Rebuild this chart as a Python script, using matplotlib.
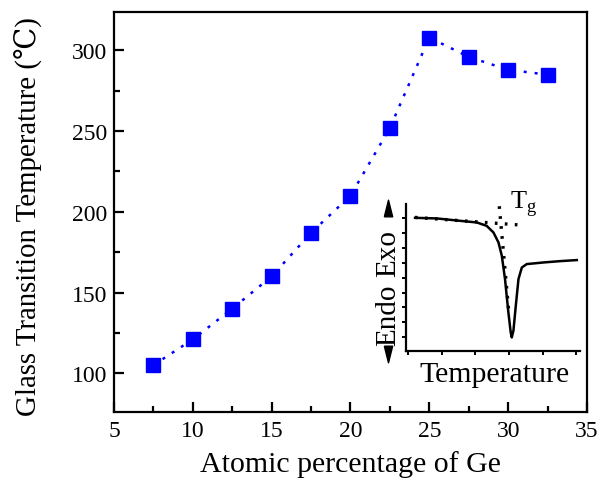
import matplotlib
matplotlib.use('Agg')
import matplotlib.pyplot as plt
from matplotlib.ticker import MultipleLocator

plt.rcParams['font.family'] = ['Liberation Serif', 'DejaVu Serif', 'DejaVu Sans']
plt.rcParams['mathtext.fontset'] = 'custom'
plt.rcParams['mathtext.rm'] = 'Liberation Serif'

# main data: Tg vs Ge content
ge = [7.5, 10, 12.5, 15, 17.5, 20, 22.5, 25, 27.5, 30, 32.5]
tg = [105, 121, 140, 160, 187, 210, 252, 308, 296, 288, 285]

# inset DSC curve (arbitrary units)
dsc_t = [4.2, 17.1, 31.0, 40.9, 46.8, 50.8, 53.8, 55.8, 57.7, 59.7, 61.1, 61.7,
         62.7, 64.1, 65.7, 67.7, 70.6, 80.6, 90.5, 100.4]
dsc_h = [80.2, 79.8, 78.2, 77.1, 74.8, 70.4, 63.7, 54.7, 39.0, 16.6, 3.1, -0.2,
         4.3, 21.0, 39.0, 46.8, 49.1, 50.2, 51.1, 51.8]
base_t = [4.2, 67.7]
base_h = [80.5, 75.3]
edge_t = [54.3, 59.8]
edge_h = [88.0, 18.8]

fig = plt.figure(figsize=(6.05, 4.85), dpi=100)
ax = fig.add_axes([0.1884, 0.1485, 0.7818, 0.8253])

ax.plot(ge, tg, color='blue', lw=1.8, ls=(0, (1.2, 3.2)), marker='s', ms=10.5,
        mec='blue', mfc='blue')
ax.set_xlim(5, 35)
ax.set_ylim(76, 324)
ax.xaxis.set_major_locator(MultipleLocator(5))
ax.xaxis.set_minor_locator(MultipleLocator(2.5))
ax.yaxis.set_major_locator(MultipleLocator(50))
ax.yaxis.set_minor_locator(MultipleLocator(25))
ax.tick_params(which='both', direction='in', top=False, right=False, width=1.6,
               labelsize=17)
ax.tick_params(which='major', length=7)
ax.tick_params(which='minor', length=4)
ax.tick_params(axis='x', pad=6)
ax.tick_params(axis='y', pad=5)
for lab in ax.get_xticklabels() + ax.get_yticklabels():
    lab.set_fontfamily('Liberation Serif')
for s in ax.spines.values():
    s.set_linewidth(1.6)
ax.set_xlabel('Atomic percentage of Ge', fontsize=21.5, labelpad=6)
ax.set_ylabel('Glass Transition Temperature (℃)', fontsize=20.8)
ax.yaxis.set_label_coords(-0.15, 0.49)

# inset
ins = fig.add_axes([0.671, 0.274, 0.288, 0.303])
ins.plot(dsc_t, dsc_h, color='black', lw=1.8)
ins.plot(base_t, base_h, color='black', lw=2.4, ls=(0, (0.8, 2.2)))
ins.plot(edge_t, edge_h, color='black', lw=2.4, ls=(0, (0.8, 2.2)))
ins.set_xlim(-1.2, 102.4)
ins.set_ylim(-9.4, 89.4)
ins.xaxis.set_major_locator(MultipleLocator(20))
ins.yaxis.set_major_locator(MultipleLocator(10))
ins.tick_params(direction='out', length=3, width=1.4, labelleft=False, labelbottom=False)
ins.spines['top'].set_visible(False)
ins.spines['right'].set_visible(False)
ins.spines['left'].set_linewidth(1.6)
ins.spines['bottom'].set_linewidth(1.6)
ins.patch.set_alpha(0)
ins.text(60.5, 90, 'T$_\\mathregular{g}$', fontsize=19, va='center', ha='left',
         clip_on=False)
ins.text(0.506, -0.156, 'Temperature', transform=ins.transAxes, fontsize=21.5,
         ha='center', va='center')
ins.text(-0.103, 0.673, 'Exo', transform=ins.transAxes, fontsize=21,
         rotation=90, ha='center', va='center')
ins.text(-0.103, 0.252, 'Endo', transform=ins.transAxes, fontsize=21,
         rotation=90, ha='center', va='center')
tri = [(-0.5, -1), (0.5, -1), (0, 1), (-0.5, -1)]
tri_dn = [(-0.5, 1), (0.5, 1), (0, -1), (-0.5, 1)]
ins.plot([-0.103], [0.975], marker=tri, ms=12, color='black', transform=ins.transAxes,
         clip_on=False)
ins.plot([-0.103], [-0.02], marker=tri_dn, ms=12, color='black', transform=ins.transAxes,
         clip_on=False)

fig.savefig('out.png', dpi=100)
